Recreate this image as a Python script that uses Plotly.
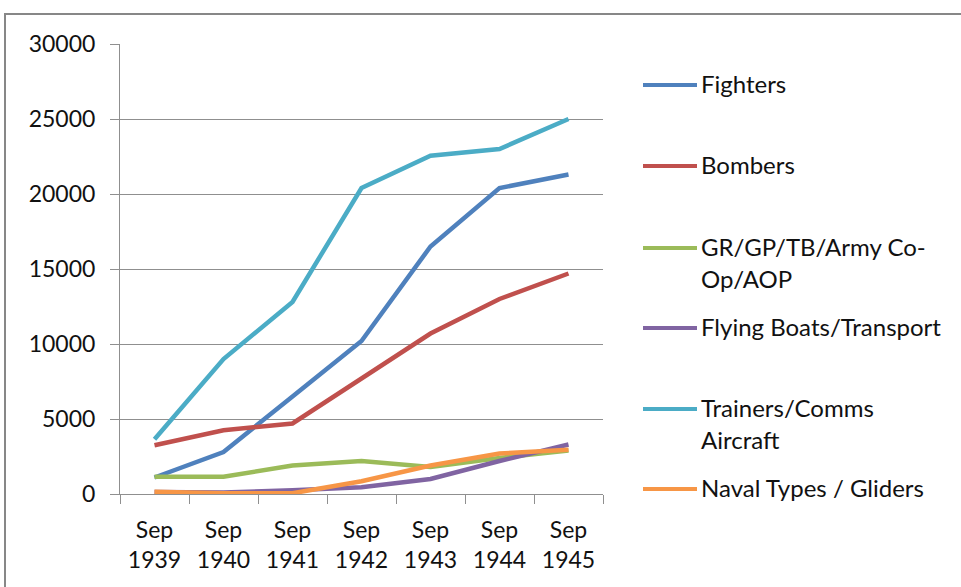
import plotly.graph_objects as go

# Data
years = ["Sep<br>1939", "Sep<br>1940", "Sep<br>1941", "Sep<br>1942",
         "Sep<br>1943", "Sep<br>1944", "Sep<br>1945"]

fighters = [1100, 2800, 6500, 10200, 16500, 20400, 21300]
bombers = [3250, 4250, 4700, 7700, 10700, 13000, 14700]
gr_gp = [1150, 1150, 1900, 2200, 1800, 2400, 2900]
flying_boats = [130, 100, 250, 450, 1000, 2200, 3300]
trainers = [3650, 9000, 12800, 20400, 22550, 23000, 25000]
naval = [150, 50, 50, 850, 1900, 2700, 2950]

series_names = ["Fighters", "Bombers", "GR/GP/TB/Army Co-<br>Op/AOP",
                "Flying Boats/Transport", "Trainers/Comms<br>Aircraft",
                "Naval Types / Gliders"]
series_values = [fighters, bombers, gr_gp, flying_boats, trainers, naval]
series_colors = ["#4F81BD", "#C0504D", "#9BBB59", "#8064A2", "#4BACC6", "#F79646"]

FONT = "Lato"
W, H = 961, 587
L, R, T, B = 120, 603, 44, 494  # plot area in pixels


def px_x(x):
    return (x - L) / (R - L)


def px_y(y):
    return (B - y) / (B - T)


fig = go.Figure()
for name, vals, color in zip(series_names, series_values, series_colors):
    fig.add_trace(go.Scatter(
        x=years, y=vals, mode="lines", name=name.replace("<br>", ""),
        line={"color": color, "width": 4.5}, showlegend=False,
    ))

# hand-built legend so the uneven Excel spacing can be kept
legend_rows = [85, 166, 248, 328, 409, 489]
shapes = []
annotations = []
for name, color, row in zip(series_names, series_colors, legend_rows):
    shapes.append(dict(type="line", xref="paper", yref="paper",
                       x0=px_x(643), x1=px_x(697), y0=px_y(row), y1=px_y(row),
                       line={"color": color, "width": 4}))
    for i, part in enumerate(name.split("<br>")):
        annotations.append(dict(
            text=part, xref="paper", yref="paper", x=px_x(699),
            y=px_y(row - 1.5 + 32 * i), xanchor="left", yanchor="middle",
            showarrow=False, font={"family": FONT, "size": 24, "color": "#111"},
        ))

# outer chart border
shapes.append(dict(type="rect", xref="paper", yref="paper",
                   x0=px_x(5), x1=px_x(990), y0=px_y(14), y1=px_y(620),
                   line={"color": "#878787", "width": 2}, layer="below"))

fig.update_layout(
    width=W, height=H,
    margin={"l": L, "r": W - R, "t": T, "b": H - B},
    paper_bgcolor="white", plot_bgcolor="white",
    font={"family": FONT, "size": 23, "color": "#111"},
    shapes=shapes, annotations=annotations, showlegend=False,
)
fig.update_yaxes(
    range=[0, 30000], dtick=5000, tickformat="d", showgrid=True,
    gridcolor="#8f8f8f", gridwidth=1, showline=True, linecolor="#8f8f8f",
    linewidth=1, ticks="outside", ticklen=9, tickcolor="#8f8f8f",
    zeroline=False, ticklabelstandoff=10, fixedrange=True,
)
fig.update_xaxes(
    range=[-0.5, 6.5], showgrid=False, showline=True, linecolor="#8f8f8f",
    linewidth=1, ticks="outside", ticklen=9, tickcolor="#8f8f8f",
    tickson="boundaries", ticklabelstandoff=15, fixedrange=True,
)

# drop the default page margin so the figure sits at the window origin
fig.write_html(
    "out.html",
    config={"displayModeBar": False},
    post_script="document.body.style.margin='0';",
)
